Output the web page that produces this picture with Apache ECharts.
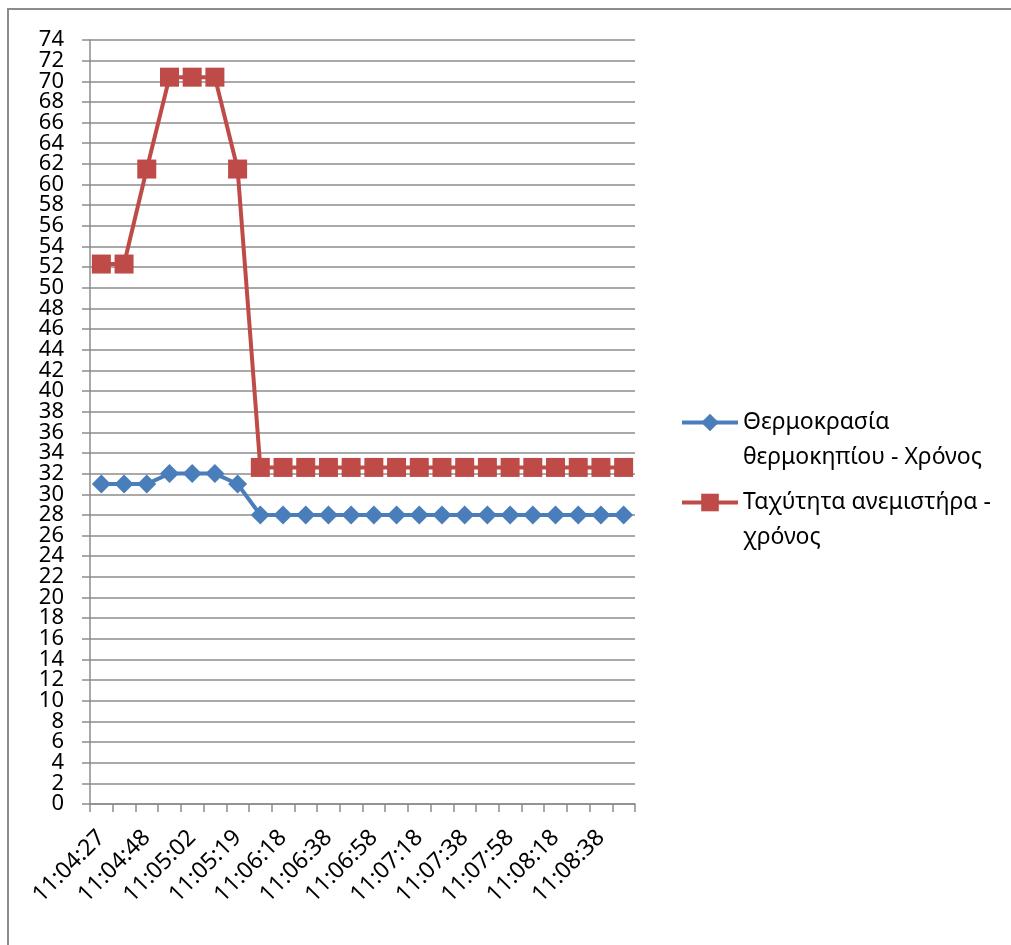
<!DOCTYPE html>
<html>
<head>
<meta charset="utf-8">
<script src="https://cdn.jsdelivr.net/npm/echarts@6/dist/echarts.min.js"></script>
<style>
  html, body { margin: 0; padding: 0; background: #fff; }
  #frame {
    position: absolute; left: 7px; top: 8px; width: 1020px; height: 960px;
    border: 2px solid #8c8c8c; box-sizing: border-box;
  }
  #main { position: absolute; left: 0; top: 0; width: 1011px; height: 945px; }
</style>
</head>
<body>
<div id="frame"></div>
<div id="main"></div>
<script>
// χρόνοι (κάθε δεύτερη ετικέτα εμφανίζεται)
const times = [
  '11:04:27', '11:04:37', '11:04:48', '11:04:55', '11:05:02', '11:05:10',
  '11:05:19', '11:05:48', '11:06:18', '11:06:28', '11:06:38', '11:06:48',
  '11:06:58', '11:07:08', '11:07:18', '11:07:28', '11:07:38', '11:07:48',
  '11:07:58', '11:08:08', '11:08:18', '11:08:28', '11:08:38', '11:08:48'
]
const tempName = 'Θερμοκρασία θερμοκηπίου - Χρόνος'
const fanName = 'Ταχύτητα ανεμιστήρα - χρόνος'
const tempValues = [31, 31, 31, 32, 32, 32, 31, 28, 28, 28, 28, 28, 28, 28, 28, 28, 28, 28, 28, 28, 28, 28, 28, 28]
const fanValues = [52.3, 52.3, 61.5, 70.4, 70.4, 70.4, 61.5, 32.6, 32.6, 32.6, 32.6, 32.6, 32.6, 32.6, 32.6, 32.6, 32.6, 32.6, 32.6, 32.6, 32.6, 32.6, 32.6, 32.6]

const font = 'Noto Sans'
const legendText = {
  [tempName]: ' \nΘερμοκρασία\nθερμοκηπίου - Χρόνος',
  [fanName]: ' \nΤαχύτητα ανεμιστήρα -\nχρόνος'
}

let myChart = echarts.init(document.getElementById('main'))
const legendBase = {
  orient: 'vertical',
  left: 680,
  itemWidth: 56,
  itemHeight: 22,
  itemGap: 0,
  padding: 0,
  formatter: name => legendText[name],
  lineStyle: { width: 4 },
  textStyle: { fontFamily: font, fontSize: 23, color: '#000', lineHeight: 35 }
}
// δύο άξονες y στην ίδια θέση: ο ένας γράφει 0,4,8..., ο άλλος 2,6,10...
const yLabel = rest => ({
  margin: 26,
  color: '#000',
  fontFamily: font,
  fontSize: 22,
  showMinLabel: true,
  showMaxLabel: true,
  formatter: v => (v % 4 === rest ? String(v) : '')
})
myChart.setOption({
  animation: false,
  grid: { left: 90, top: 40, right: 376, bottom: 141 },
  legend: [
    Object.assign({}, legendBase, { data: [tempName], top: 423 - 53 }),
    Object.assign({}, legendBase, { data: [fanName], top: 503 - 53 })
  ],
  xAxis: {
    type: 'category',
    data: times,
    boundaryGap: true,
    axisLine: { lineStyle: { color: '#8c8c8c', width: 1.5 } },
    axisTick: { show: true, interval: 0, length: 8, lineStyle: { color: '#8c8c8c', width: 1.5 } },
    axisLabel: {
      interval: 1,
      rotate: 45,
      margin: 30,
      color: '#000',
      fontFamily: font,
      fontSize: 23
    }
  },
  yAxis: [
    {
      type: 'value',
      position: 'left',
      min: 0,
      max: 74,
      interval: 2,
      axisLine: { show: true, lineStyle: { color: '#8c8c8c', width: 1.5 } },
      axisTick: { show: true, length: 8, lineStyle: { color: '#8c8c8c', width: 1.5 } },
      axisLabel: yLabel(0),
      splitLine: { show: true, lineStyle: { color: '#8c8c8c', width: 1.5 } }
    },
    {
      type: 'value',
      position: 'left',
      offset: 0,
      min: 0,
      max: 74,
      interval: 2,
      axisLine: { show: false },
      axisTick: { show: false },
      axisLabel: yLabel(2),
      splitLine: { show: false }
    }
  ],
  series: [
    {
      name: tempName,
      type: 'line',
      data: tempValues,
      showAllSymbol: true,
      symbol: 'diamond',
      symbolSize: 19,
      lineStyle: { color: '#4a7ebb', width: 4 },
      itemStyle: { color: '#4a7ebb' }
    },
    {
      name: fanName,
      type: 'line',
      data: fanValues,
      showAllSymbol: true,
      symbol: 'rect',
      symbolSize: 19,
      lineStyle: { color: '#be4b48', width: 4 },
      itemStyle: { color: '#be4b48' }
    }
  ]
})
</script>
</body>
</html>
